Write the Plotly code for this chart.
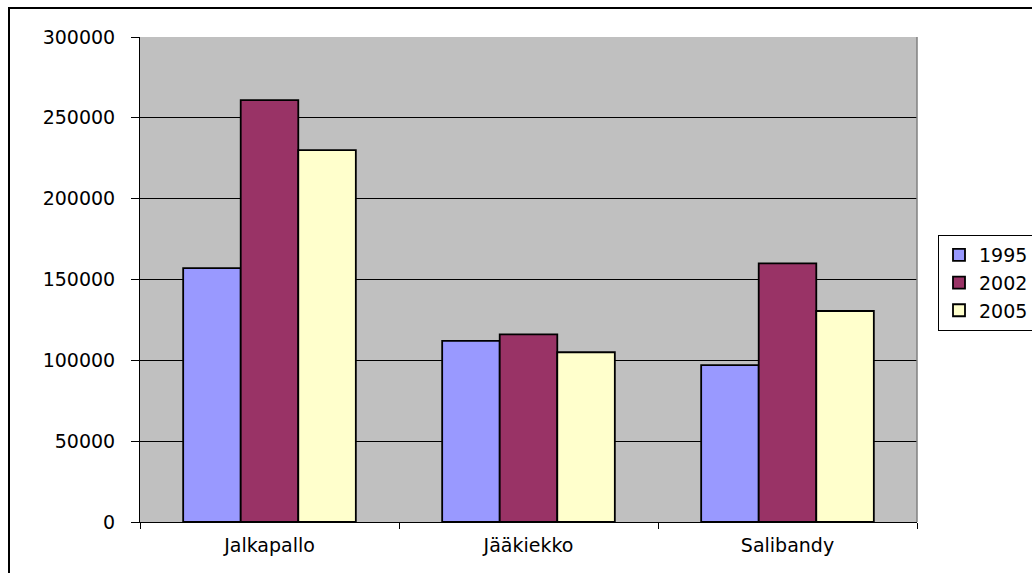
import plotly.graph_objects as go

categories = ["Jalkapallo", "Jääkiekko", "Salibandy"]
series_names = ["1995", "2002", "2005"]
values_1995 = [157000, 112000, 97000]
values_2002 = [261000, 116000, 160000]
values_2005 = [230000, 105000, 130500]
colors = ["#9999FF", "#993366", "#FFFFCC"]
y_ticks = [0, 50000, 100000, 150000, 200000, 250000, 300000]

W, H = 1032, 573
L, R, T, B = 140, 1032 - 917, 37, 573 - 522
pw, ph = W - L - R, H - T - B

def px_x(x):
    return (x - L) / pw

def px_y(y):
    return (H - B - y) / ph

FONT = "DejaVu Sans"

fig = go.Figure()
for name, vals, col in zip(series_names, [values_1995, values_2002, values_2005], colors):
    fig.add_trace(go.Bar(
        x=categories, y=vals, name=name,
        marker=dict(color=col, line=dict(color="black", width=1.8)),
    ))

fig.update_layout(
    width=W, height=H,
    margin=dict(l=L, r=R, t=T, b=B, pad=0, autoexpand=False),
    paper_bgcolor="white",
    plot_bgcolor="#C0C0C0",
    barmode="group",
    bargap=1.5 / 4.5,
    bargroupgap=0,
    font=dict(family=FONT, size=19, color="black"),
    showlegend=True,
    legend=dict(
        x=px_x(938), y=px_y(235), xanchor="left", yanchor="top",
        bordercolor="black", borderwidth=1, bgcolor="white",
        font=dict(family=FONT, size=19, color="black"),
        tracegroupgap=0,
    ),
    xaxis=dict(
        type="category",
        showline=True, linecolor="black", linewidth=1,
        ticks="outside", tickson="boundaries", ticklen=6, tickcolor="black",
        showgrid=False, ticklabelstandoff=6,
        range=[-0.5, 2.5],
    ),
    yaxis=dict(
        range=[0, 300000],
        tickvals=y_ticks,
        ticktext=[str(v) for v in y_ticks],
        showline=True, linecolor="black", linewidth=1,
        ticks="outside", ticklen=8, tickcolor="black",
        showgrid=True, gridcolor="black", gridwidth=1,
        zeroline=False, ticklabelstandoff=12,
    ),
    shapes=[
        dict(type="line", xref="paper", yref="paper", x0=1, x1=1, y0=0, y1=1,
             line=dict(color="#808080", width=1.5)),
        dict(type="rect", xref="paper", yref="paper",
             x0=px_x(9), x1=px_x(1100), y0=px_y(620), y1=px_y(8),
             line=dict(color="black", width=2)),
    ],
)

fig.write_html("out.html")
